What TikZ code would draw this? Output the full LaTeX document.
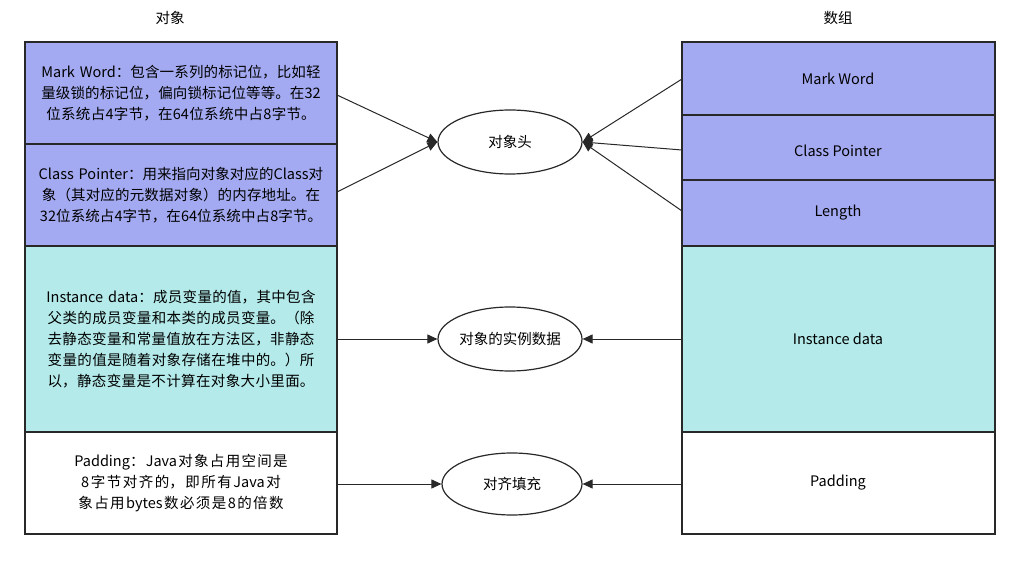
\documentclass[tikz,border=0pt]{standalone}
\usepackage{fontspec}
\setmainfont{Noto Sans CJK SC}
\XeTeXlinebreaklocale "zh"
\XeTeXlinebreakskip=0pt plus 1pt
\usetikzlibrary{arrows.meta,shapes.geometric}
\definecolor{lav}{RGB}{164,170,242}
\definecolor{cy}{RGB}{180,234,234}
\definecolor{ln}{RGB}{40,40,40}
\begin{document}
\begin{tikzpicture}[x=1pt,y=-1pt,
 box/.style={draw=ln,line width=1.2pt},
 txt/.style={font=\fontsize{14.5}{21}\selectfont,text width=288pt,align=center,inner sep=0},
 lbl/.style={font=\fontsize{14.5}{20}\selectfont},
 ell/.style={draw=ln,line width=1.2pt,ellipse,minimum width=144pt,minimum height=64pt,inner sep=0,font=\fontsize{14.5}{20}\selectfont},
 arr/.style={draw=ln,line width=1pt,-{Triangle[length=10pt,width=9pt]}}]
\useasboundingbox (0,0) rectangle (1023,564);
\node[lbl] (t1) at (170,18) {对象};
\node[lbl] (t2) at (838,18) {数组};
% left
\draw[box,fill=lav] (25,42) rectangle (337,144);
\draw[box,fill=lav] (25,144) rectangle (337,246);
\draw[box,fill=cy] (25,246) rectangle (337,432);
\draw[box,fill=white] (25,432) rectangle (337,534);
\node[txt] (lm) at (181,93) {Mark Word：包含一系列的标记位，比如轻量级锁的标记位，偏向锁标记位等等。在32位系统占4字节，在64位系统中占8字节。};
\node[txt] (lc) at (181,195) {Class Pointer：用来指向对象对应的Class对象（其对应的元数据对象）的内存地址。在32位系统占4字节，在64位系统中占8字节。};
\node[txt] (li) at (181,339) {Instance data：成员变量的值，其中包含父类的成员变量和本类的成员变量。（除去静态变量和常量值放在方法区，非静态变量的值是随着对象存储在堆中的。）所以，静态变量是不计算在对象大小里面。};
\node[txt] (lp) at (181,483) {Padding：Java对象占用空间是8字节对齐的，即所有Java对象占用bytes数必须是8的倍数};
% right
\draw[box,fill=lav] (682,42) rectangle (995,115);
\draw[box,fill=lav] (682,115) rectangle (995,180);
\draw[box,fill=lav] (682,180) rectangle (995,246);
\draw[box,fill=cy] (682,246) rectangle (995,432);
\draw[box,fill=white] (682,432) rectangle (995,534);
\node[lbl] (rm) at (838,79) {Mark Word};
\node[lbl] (rc) at (838,151) {Class Pointer};
\node[lbl] (rl) at (838,213) {Length};
\node[lbl] (ri) at (838,339) {Instance data};
\node[lbl] (rp) at (838,483) {Padding};
% ellipses
\node[ell] (h) at (510,142) {对象头};
\node[ell] (d) at (510,339) {对象的实例数据};
\node[ell,minimum width=140pt,minimum height=62pt] (p) at (512,484) {对齐填充};
\coordinate (a1) at (337,95); \coordinate (a2) at (337,192);
\coordinate (b1) at (682,79); \coordinate (b2) at (682,150); \coordinate (b3) at (682,211);
\coordinate (a3) at (337,339); \coordinate (b4) at (682,339);
\coordinate (a4) at (337,484); \coordinate (b5) at (682,484);
\draw[arr] (a1) -- (h.west);
\draw[arr] (a2) -- (h.west);
\draw[arr] (b1) -- (h.east);
\draw[arr] (b2) -- (h.east);
\draw[arr] (b3) -- (h.east);
\draw[arr] (a3) -- (d.west);
\draw[arr] (b4) -- (d.east);
\draw[arr] (a4) -- (p.west);
\draw[arr] (b5) -- (p.east);
\end{tikzpicture}
\end{document}
